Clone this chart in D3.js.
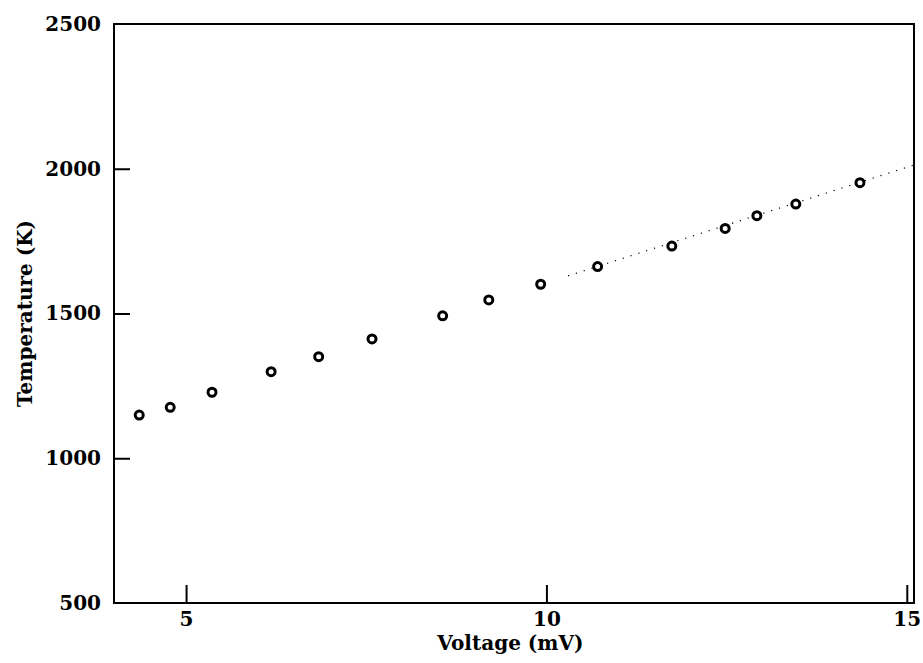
<!DOCTYPE html>
<html>
<head>
<meta charset="utf-8">
<script src="https://cdn.jsdelivr.net/npm/d3@7"></script>
<style>
  body { margin: 0; background: #fff; }
  text { font-family: "DejaVu Serif", serif; font-weight: bold; fill: #000; }
</style>
</head>
<body>
<div id="chart"></div>
<script>
// measured points
const voltage = [4.35, 4.78, 5.36, 6.18, 6.84, 7.58, 8.56, 9.20, 9.92, 10.71, 11.74, 12.48, 12.92, 13.46, 14.35]
const temperature = [1149, 1176, 1228, 1299, 1351, 1412, 1492, 1547, 1601, 1662, 1733, 1794, 1838, 1878, 1952]

// dotted fit line end points
const fitVoltage = [10.3, 15.1]
const fitTemp = [1630, 2013]

const xTicks = [5, 10, 15]
const yTicks = [500, 1000, 1500, 2000, 2500]

const width = 923
const height = 663
const margin = {top: 24, right: 9, bottom: 60, left: 114}

const svg = d3.select("#chart")
  .append("svg")
  .attr("width", width)
  .attr("height", height)

const x = d3.scaleLinear()
  .domain([4, 15.1])
  .range([margin.left, width - margin.right])

const y = d3.scaleLinear()
  .domain([500, 2500])
  .range([height - margin.bottom, margin.top])

// frame
svg.append("rect")
  .attr("x", x(4))
  .attr("y", y(2500))
  .attr("width", x(15.1) - x(4))
  .attr("height", y(500) - y(2500))
  .attr("fill", "none")
  .attr("stroke", "#000")
  .attr("stroke-width", 2)

// bottom axis, ticks inside
const xAxis = svg.append("g")
  .attr("transform", `translate(0, ${y(500)})`)
  .call(d3.axisBottom(x).tickValues(xTicks).tickFormat(d3.format("d"))
    .tickSizeInner(-18).tickSizeOuter(0).tickPadding(9))
xAxis.select(".domain").remove()
xAxis.selectAll("line").attr("stroke-width", 2)
xAxis.selectAll("text").style("font-size", "20px")

// left axis, ticks inside
const yAxis = svg.append("g")
  .attr("transform", `translate(${x(4)}, 0)`)
  .call(d3.axisLeft(y).tickValues(yTicks).tickFormat(d3.format("d"))
    .tickSizeInner(-16).tickSizeOuter(0).tickPadding(13))
yAxis.select(".domain").remove()
yAxis.selectAll("line").attr("stroke-width", 2)
yAxis.selectAll(".tick").filter(d => d == 500 || d == 2500).select("line").remove()
yAxis.selectAll("text").style("font-size", "20px")

// dotted fit
const fit = d3.zip(fitVoltage, fitTemp)
svg.append("path")
  .datum(fit)
  .attr("d", d3.line().x(d => x(d[0])).y(d => y(d[1])))
  .attr("fill", "none")
  .attr("stroke", "#000")
  .attr("stroke-width", 1.2)
  .attr("stroke-dasharray", "1.2,7")

// markers
svg.selectAll("circle")
  .data(d3.zip(voltage, temperature))
  .join("circle")
  .attr("cx", d => x(d[0]))
  .attr("cy", d => y(d[1]))
  .attr("r", 4)
  .attr("fill", "#fff")
  .attr("stroke", "#000")
  .attr("stroke-width", 3)

// axis titles
svg.append("text")
  .attr("x", x(9.5))
  .attr("y", 650)
  .attr("text-anchor", "middle")
  .style("font-size", "20px")
  .text("Voltage (mV)")

svg.append("text")
  .attr("transform", `translate(32, ${y(1500)}) rotate(-90)`)
  .attr("text-anchor", "middle")
  .style("font-size", "20px")
  .text("Temperature (K)")
</script>
</body>
</html>
